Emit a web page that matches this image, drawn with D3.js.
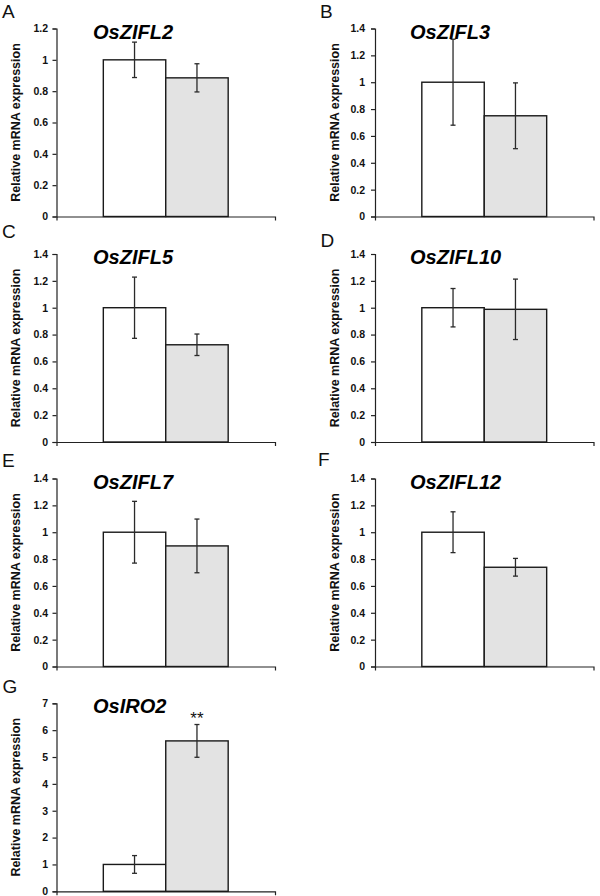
<!DOCTYPE html>
<html>
<head>
<meta charset="utf-8">
<script src="https://cdn.jsdelivr.net/npm/d3@7"></script>
<style>
  html, body { margin: 0; padding: 0; background: #fff; }
  svg { display: block; font-family: Arial, "Liberation Sans", sans-serif; }
</style>
</head>
<body>
<svg id="chart" width="600" height="896"></svg>
<script>
// ---- data ----
const panelLetters = ["A", "B", "C", "D", "E", "F", "G"];
const genes = ["OsZIFL2", "OsZIFL3", "OsZIFL5", "OsZIFL10", "OsZIFL7", "OsZIFL12", "OsIRO2"];
const series = ["control", "treated"];
const controlMean = [1.0, 1.0, 1.0, 1.0, 1.0, 1.0, 1.0];
const controlErr = [0.113, 0.32, 0.228, 0.143, 0.23, 0.152, 0.33];
const treatedMean = [0.885, 0.75, 0.724, 0.988, 0.898, 0.739, 5.6];
const treatedErr = [0.09, 0.245, 0.08, 0.225, 0.2, 0.066, 0.61];
const yMax = [1.2, 1.4, 1.4, 1.4, 1.4, 1.4, 7];
const yStep = [0.2, 0.2, 0.2, 0.2, 0.2, 0.2, 1];
const significance = ["", "", "", "", "", "", "**"];
const yAxisTitle = "Relative mRNA expression";

// ---- layout ----
const svg = d3.select("#chart");
const colX = [56.5, 375];
const rowTop = [28.5, 254, 478.5, 703.3];
const plotW = 218.5, plotH = 188;
const letterPos = [[2, 17.5], [320, 17.5], [2, 238], [320.5, 246.5], [2, 466.5], [318, 466], [2.5, 692.5]];
const fills = ["#ffffff", "#e3e3e3"];

genes.forEach((gene, i) => {
  const col = i % 2, row = Math.floor(i / 2);
  const ox = colX[col], oy = rowTop[row];
  const g = svg.append("g").attr("transform", `translate(${ox},${oy})`);

  const x = d3.scaleBand().domain(series).range([0, plotW]).paddingInner(0).paddingOuter(0.75);
  const y = d3.scaleLinear().domain([0, yMax[i]]).range([plotH, 0]);

  const ticks = d3.range(0, yMax[i] + yStep[i] / 2, yStep[i]).map(v => +v.toFixed(2));
  const yAxis = d3.axisLeft(y).tickValues(ticks).tickSize(4).tickPadding(col === 0 ? 4.5 : 6)
    .tickFormat(d => String(+d.toFixed(1)));
  const ya = g.append("g").call(yAxis);
  ya.select(".domain").attr("stroke", "#222").attr("stroke-width", 1.2);
  ya.selectAll(".tick line").attr("stroke", "#222").attr("stroke-width", 1.2);
  ya.selectAll("text").attr("font-size", 10.5).attr("font-weight", "bold")
    .attr("font-family", "Arial, 'Liberation Sans', sans-serif").attr("fill", "#111");

  // x axis: baseline with end ticks
  const xa = g.append("g").attr("transform", `translate(0,${plotH})`)
    .call(d3.axisBottom(d3.scaleLinear().domain([0, 1]).range([0, plotW])).tickValues([]).tickSizeOuter(4));
  xa.select(".domain").attr("stroke", "#222").attr("stroke-width", 1.2);

  const means = [controlMean[i], treatedMean[i]];
  const errs = [controlErr[i], treatedErr[i]];

  g.selectAll("rect.bar").data(series).enter().append("rect")
    .attr("class", "bar")
    .attr("x", d => x(d))
    .attr("width", x.bandwidth())
    .attr("y", (d, k) => y(means[k]))
    .attr("height", (d, k) => plotH - y(means[k]))
    .attr("fill", (d, k) => fills[k])
    .attr("stroke", "#1a1a1a").attr("stroke-width", 1.4);

  // error bars
  const eb = g.selectAll("g.err").data(series).enter().append("g").attr("class", "err")
    .attr("stroke", "#2a2a2a").attr("stroke-width", 1.3);
  eb.append("line")
    .attr("x1", d => x(d) + x.bandwidth() / 2).attr("x2", d => x(d) + x.bandwidth() / 2)
    .attr("y1", (d, k) => y(means[k] + errs[k])).attr("y2", (d, k) => y(means[k] - errs[k]));
  [1, -1].forEach(s => {
    eb.append("line")
      .attr("x1", d => x(d) + x.bandwidth() / 2 - 2.5).attr("x2", d => x(d) + x.bandwidth() / 2 + 2.5)
      .attr("y1", (d, k) => y(means[k] + s * errs[k])).attr("y2", (d, k) => y(means[k] + s * errs[k]));
  });

  if (significance[i]) {
    g.append("text")
      .attr("x", x(series[1]) + x.bandwidth() / 2)
      .attr("y", y(treatedMean[i] + treatedErr[i]) - 1)
      .attr("text-anchor", "middle").attr("font-size", 17).attr("fill", "#111")
      .text(significance[i]);
  }

  // gene title
  g.append("text")
    .attr("x", col === 0 ? 36.5 : 35).attr("y", 10)
    .attr("font-size", 20).attr("font-weight", "bold").attr("font-style", "italic")
    .attr("fill", "#000").text(gene);

  // y axis title
  g.append("text")
    .attr("transform", `translate(-39.5,${plotH / 2}) rotate(-90)`)
    .attr("text-anchor", "middle").attr("dominant-baseline", "middle")
    .attr("font-size", 12.5).attr("font-weight", "bold").attr("fill", "#111")
    .text(yAxisTitle);

  // panel letter
  svg.append("text").attr("x", letterPos[i][0]).attr("y", letterPos[i][1])
    .attr("font-size", 19).attr("fill", "#111").text(panelLetters[i]);
});
</script>
</body>
</html>
